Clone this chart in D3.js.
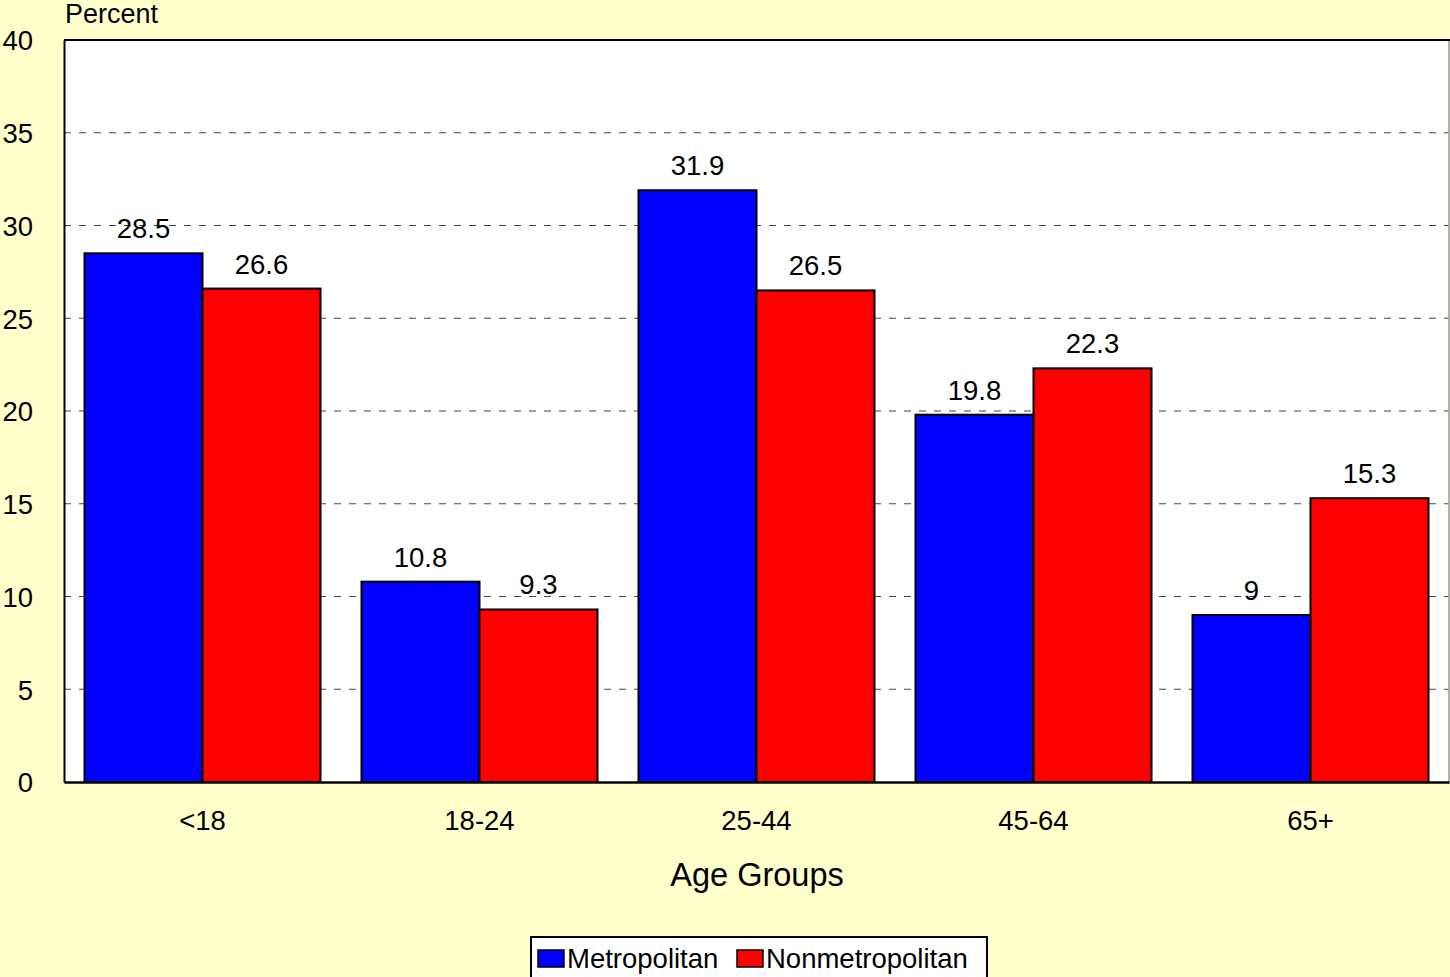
<!DOCTYPE html>
<html><head><meta charset="utf-8">
<script src="https://cdn.jsdelivr.net/npm/d3@7"></script>
<style>body{margin:0;background:#FFFFCC;}svg{display:block;font-family:"Liberation Sans",Arial,sans-serif;}</style>
</head><body>
<svg id="c" width="1450" height="977"></svg>
<script>
const categories = ["<18","18-24","25-44","45-64","65+"];
const seriesNames = ["Metropolitan","Nonmetropolitan"];
const metroValues = [28.5,10.8,31.9,19.8,9];
const nonmetroValues = [26.6,9.3,26.5,22.3,15.3];
const yTicks = [0,5,10,15,20,25,30,35,40];
const colors = ["#0000FF","#FF0000"];

const FS = 27.5;
const svg = d3.select("#c");
svg.append("rect").attr("width",1450).attr("height",977).attr("fill","#FFFFCC");
const L=64,T=40,R=1449,B=782;
const x = d3.scaleBand().domain(categories).range([L,R]).paddingInner(0.148).paddingOuter(0.074);
const x1 = d3.scaleBand().domain(seriesNames).range([0,x.bandwidth()]);
const y = d3.scaleLinear().domain([0,40]).range([B,T]);

svg.append("rect").attr("x",L).attr("y",T).attr("width",R-L).attr("height",B-T).attr("fill","#fff");
// grid
svg.append("g").selectAll("line").data(yTicks.filter(d=>d>0&&d<40)).join("line")
  .attr("x1",L).attr("x2",R).attr("y1",d=>y(d)).attr("y2",d=>y(d))
  .attr("stroke","#444").attr("stroke-width",1).attr("stroke-dasharray","7,8");
// right border gray
svg.append("line").attr("x1",R).attr("x2",R).attr("y1",T).attr("y2",B).attr("stroke","#999").attr("stroke-width",1.5);
// top border
svg.append("line").attr("x1",L).attr("x2",R+1).attr("y1",T).attr("y2",T).attr("stroke","#000").attr("stroke-width",2);

const data = categories.map((c,i)=>({cat:c, vals:[metroValues[i],nonmetroValues[i]]}));
const g = svg.append("g").selectAll("g").data(data).join("g").attr("transform",d=>`translate(${x(d.cat)},0)`);
g.selectAll("rect").data(d=>d.vals.map((v,j)=>({v,s:seriesNames[j],j}))).join("rect")
  .attr("x",d=>x1(d.s)).attr("width",x1.bandwidth()).attr("y",d=>y(d.v)).attr("height",d=>B-y(d.v))
  .attr("fill",d=>colors[d.j]).attr("stroke","#000").attr("stroke-width",2);
g.selectAll("text").data(d=>d.vals.map((v,j)=>({v,s:seriesNames[j],j}))).join("text")
  .attr("x",d=>x1(d.s)+x1.bandwidth()/2).attr("y",d=>y(d.v)-15).attr("text-anchor","middle")
  .attr("font-size",FS).attr("fill","#000").text(d=>d.v);

// axes
const yAxis = d3.axisLeft(y).tickValues(yTicks).tickSize(0).tickPadding(31);
const ya = svg.append("g").attr("transform",`translate(${L},0)`).call(yAxis);
ya.select(".domain").attr("stroke","#000").attr("stroke-width",2);
ya.selectAll("text").attr("font-size",FS).attr("fill","#000").attr("font-family","Liberation Sans, Arial, sans-serif").attr("dy","0.36em");

const xAxis = d3.axisBottom(x).tickSize(0).tickPadding(28);
const xa = svg.append("g").attr("transform",`translate(0,${B})`).call(xAxis);
xa.select(".domain").attr("stroke","#000").attr("stroke-width",2.5);
xa.selectAll("text").attr("font-size",FS).attr("fill","#000").attr("font-family","Liberation Sans, Arial, sans-serif");

svg.append("text").attr("x",65).attr("y",23).attr("font-size",27).text("Percent");
svg.append("text").attr("x",757).attr("y",886).attr("text-anchor","middle").attr("font-size",32.5).text("Age Groups");

// legend
const lg = svg.append("g");
lg.append("rect").attr("x",531).attr("y",937).attr("width",456).attr("height",50).attr("fill","#fff").attr("stroke","#000").attr("stroke-width",2);
const lx=[538,737];
seriesNames.forEach((s,i)=>{
  lg.append("rect").attr("x",lx[i]).attr("y",950).attr("width",26).attr("height",17).attr("fill",colors[i]).attr("stroke","#000").attr("stroke-width",1.5);
  lg.append("text").attr("x",lx[i]+29).attr("y",968).attr("font-size",FS).text(s);
});
</script>
</body></html>
